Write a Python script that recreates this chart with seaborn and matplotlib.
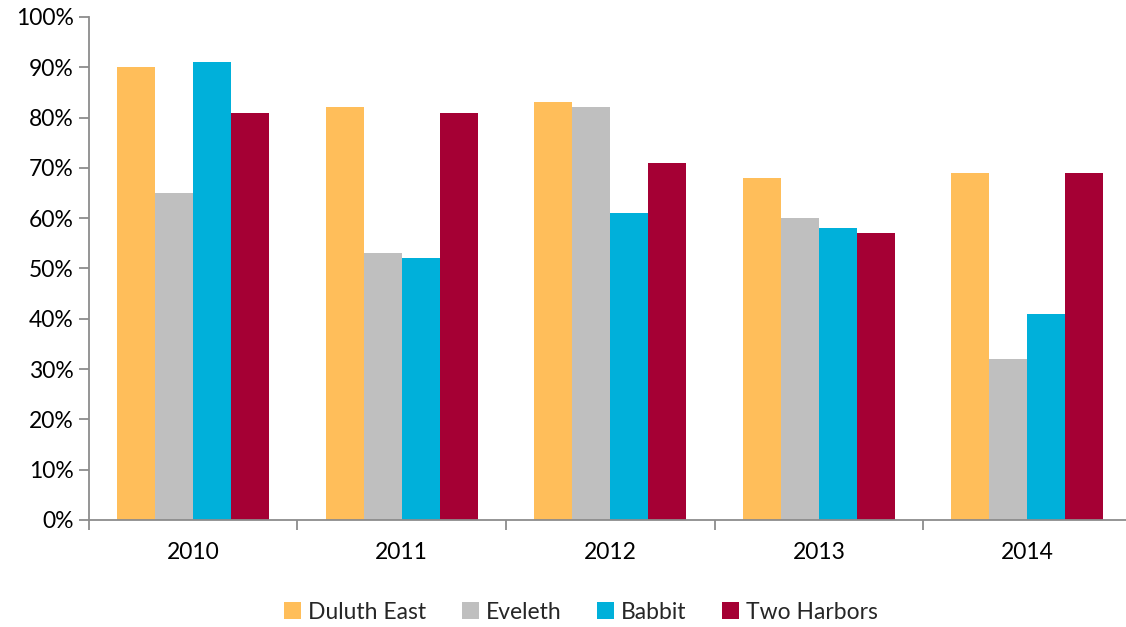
import matplotlib
matplotlib.use("Agg")
import matplotlib.pyplot as plt
import seaborn as sns
import pandas as pd
from matplotlib.ticker import FixedLocator, PercentFormatter

years = ["2010", "2011", "2012", "2013", "2014"]
duluth_east = [90, 82, 83, 68, 69]
eveleth = [65, 53, 82, 60, 32]
babbit = [91, 52, 61, 58, 41]
two_harbors = [81, 81, 71, 57, 69]
schools = ["Duluth East", "Eveleth", "Babbit", "Two Harbors"]
colors = ["#FFBE5A", "#BFBFBF", "#00B0DA", "#A50034"]

rows = []
for school, vals in zip(schools, [duluth_east, eveleth, babbit, two_harbors]):
    for y, v in zip(years, vals):
        rows.append({"Year": y, "School": school, "Value": v})
df = pd.DataFrame(rows)

sns.set_theme(style="white")
plt.rcParams["font.family"] = ["Lato", "DejaVu Sans"]

fig = plt.figure(figsize=(11.26, 6.27), dpi=100)
ax = fig.add_axes([0.079, 0.1707, 0.926, 0.8023])

sns.barplot(data=df, x="Year", y="Value", hue="School", order=years,
            hue_order=schools, palette=colors, width=0.73, gap=0,
            saturation=1, linewidth=0, errorbar=None, ax=ax)

ax.set_ylim(0, 100)
ax.set_xlim(-0.5, 4.5)
ax.set_yticks(range(0, 101, 10))
ax.yaxis.set_major_formatter(PercentFormatter(decimals=0))
ax.set_xlabel("")
ax.set_ylabel("")

spine_color = "#8C8C8C"
for side in ["top", "right"]:
    ax.spines[side].set_visible(False)
for side in ["left", "bottom"]:
    ax.spines[side].set_color(spine_color)
    ax.spines[side].set_linewidth(1.3)

ax.tick_params(axis="y", which="major", direction="out", length=7,
               width=1.3, color=spine_color, labelsize=16.5, pad=4,
               labelcolor="black", left=True)
ax.tick_params(axis="x", which="major", length=0, labelsize=16.5, pad=16,
               labelcolor="black")
ax.xaxis.set_minor_locator(FixedLocator([-0.5, 0.5, 1.5, 2.5, 3.5, 4.5]))
ax.tick_params(axis="x", which="minor", direction="out", length=7,
               width=1.3, color=spine_color, bottom=True)

handles, labels = ax.get_legend_handles_labels()
ax.legend(handles, labels, loc="lower center", bbox_to_anchor=(0.472, -0.245),
          ncol=4, frameon=False, fontsize=16.5, handlelength=0.75,
          handleheight=0.75, handletextpad=0.3, columnspacing=1.55)

fig.savefig("out.png", dpi=100)
